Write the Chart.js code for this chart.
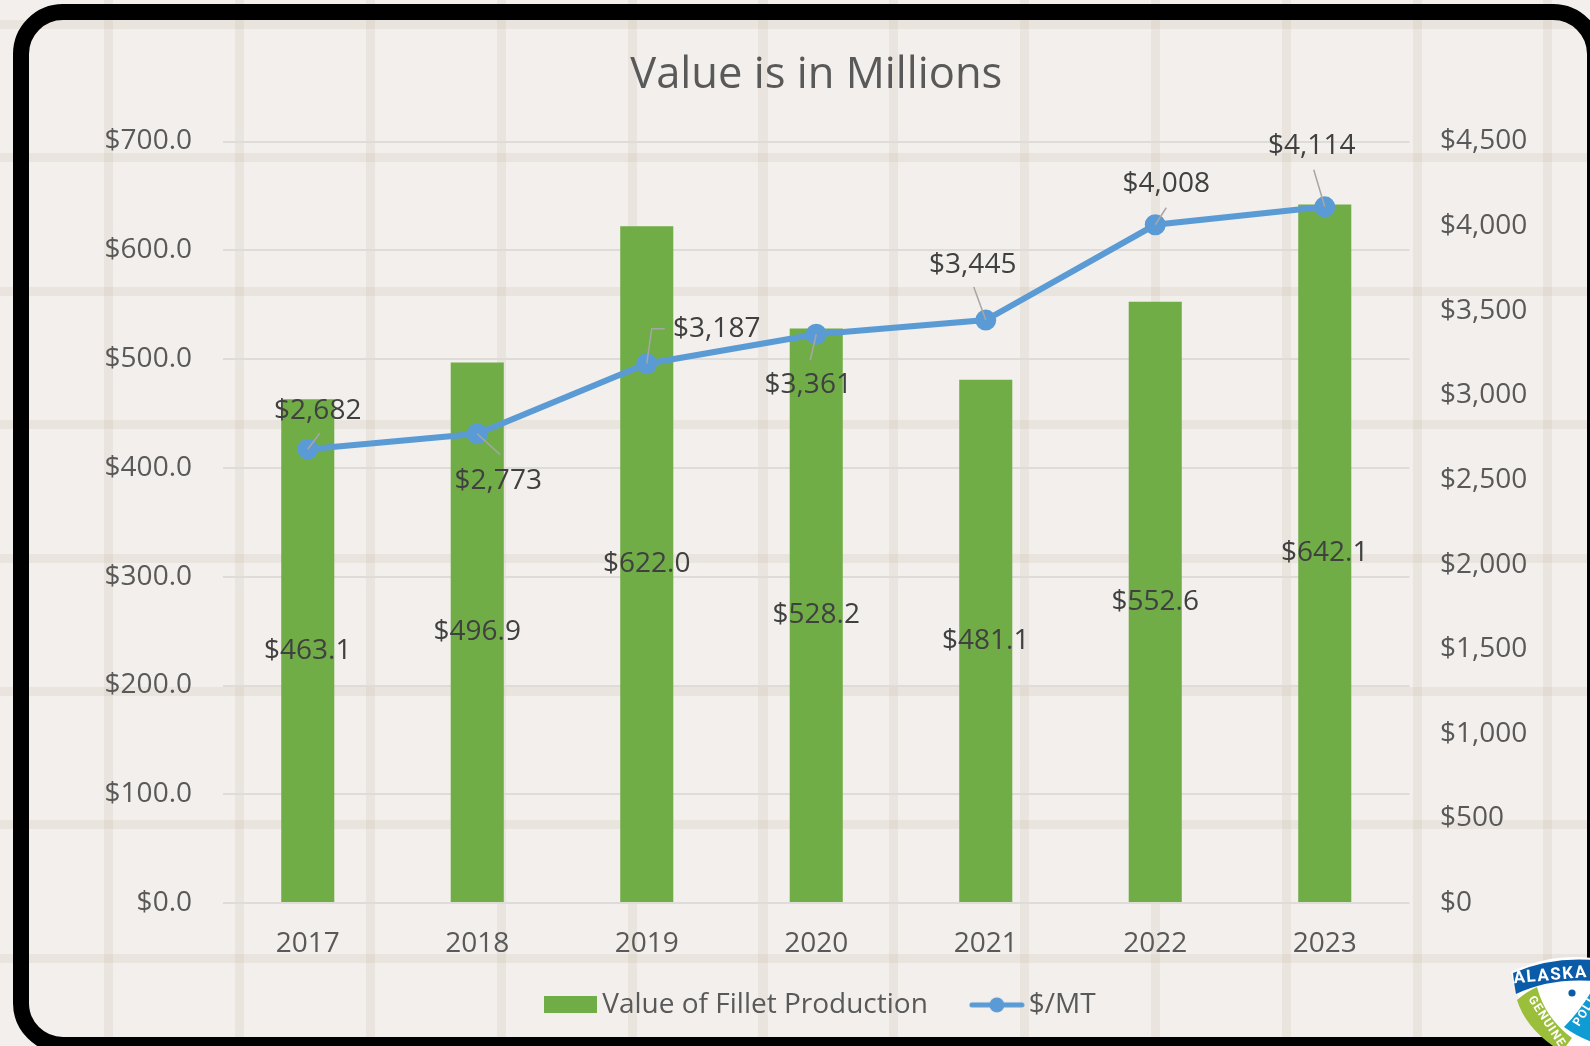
<!DOCTYPE html>
<html>
<head>
<meta charset="utf-8">
<title>Value is in Millions</title>
<script src="https://cdn.jsdelivr.net/npm/chart.js@4"></script>
<style>
  html, body { margin: 0; height: 100%; overflow: hidden; }
  body {
    width: 1590px; height: 1046px; position: relative;
    background-color: #f2efec;
    background-image: repeating-linear-gradient(90deg, transparent 0, transparent 104.5px, rgba(200,185,165,.2) 104.5px, rgba(200,185,165,.2) 113.5px, transparent 113.5px, transparent 130.8px);
  }
  #hlines {
    position: absolute; left: 0; top: 0; width: 1590px; height: 1046px;
    background-image: repeating-linear-gradient(180deg, rgba(200,185,165,.2) 0, rgba(200,185,165,.2) 9px, transparent 9px, transparent 133.4px);
    background-position: 0 20px;
  }
  #frame {
    position: absolute; left: 12.5px; top: 3.5px; width: 1558.5px; height: 1017.5px;
    border: 16px solid #000; border-radius: 50px;
  }
  #wrap { position: absolute; left: 58px; top: 0; }
  #logo { position: absolute; left: 1500px; top: 950px; }
</style>
</head>
<body>
<div id="hlines"></div>
<div id="frame"></div>
<div id="wrap"><canvas id="myChart" width="1532" height="1050"></canvas></div>
<svg id="logo" width="90" height="96" viewBox="1500 950 90 96">
  <path d="M1511 972 Q1550 953 1592 958 L1592 1046 L1560 1046 Q1519 1018 1511 972Z" fill="#fff"/>
  <path d="M1513 973 Q1550 957 1592 960 L1592 981 Q1550 978 1516 994 Q1514 984 1513 973Z" fill="#0a5ca8"/>
  <path d="M1517 1000 Q1526 992 1537 987 Q1545 1018 1572 1038 L1566 1046 L1553 1046 Q1525 1026 1517 1000Z" fill="#9bbf3b"/>
  <path d="M1592 990 L1592 1042 Q1576 1036 1564 1027 Q1581 1010 1592 990Z" fill="#0f9bd3"/>
  <circle cx="1572" cy="993" r="3.6" fill="#0a5ca8"/>
  <text transform="translate(1551 980) rotate(-5)" font-family="Roboto" font-weight="700" font-size="17" letter-spacing="1.6" text-anchor="middle" fill="#fff">ALASKA</text>
  <text transform="translate(1528 999) rotate(57)" font-family="Roboto" font-weight="700" font-size="12" letter-spacing="1.2" fill="#fff">GENUINE</text>
  <text transform="translate(1579 1027) rotate(-58)" font-family="Roboto" font-weight="700" font-size="12" letter-spacing="1.2" fill="#fff">POLLOCK</text>
</svg>
<script>
// Fillet production value (millions) and price per metric ton
var years = ["2017","2018","2019","2020","2021","2022","2023"];
var fillet = [463.1,496.9,622.0,528.2,481.1,552.6,642.1];
var perMT = [2682,2773,3187,3361,3445,4008,4114];

var FONT = "'Open Sans', sans-serif";
var TEXT_SIZE = 28;

// where each $/MT label sits relative to its point, and the leader line to it
var labelOffsets = [[10,-38],[21,47],[70,-35],[-8,51],[-13,-55],[11,-41],[-13,-61]];
var leaders = [
  [[12,-16]],
  [[23,21]],
  [[5,-35],[18,-35]],
  [[-6,26]],
  [[-12,-33]],
  [[11,-17]],
  [[-11,-37]]
];

function legendBar() {
  var c = document.createElement("canvas");
  c.width = 53; c.height = 17;
  var g = c.getContext("2d");
  g.fillStyle = "#70ad47";
  g.fillRect(0,0,53,17);
  return c;
}
function legendLine() {
  var c = document.createElement("canvas");
  c.width = 56; c.height = 18;
  var g = c.getContext("2d");
  g.strokeStyle = "#5b9bd5"; g.lineWidth = 5; g.lineCap = "round";
  g.beginPath(); g.moveTo(3,9); g.lineTo(53,9); g.stroke();
  g.fillStyle = "#5b9bd5";
  g.beginPath(); g.arc(28,9,7.5,0,Math.PI*2); g.fill();
  return c;
}

// x axis clips its labels to its own box, so the legend is lifted after layout
var liftLegend = {
  id: "liftLegend",
  afterLayout: function(chart) { chart.legend.top -= 20.2; }
};

var valueLabels = {
  id: "valueLabels",
  afterDatasetsDraw: function(chart) {
    var ctx = chart.ctx;
    var bars = chart.getDatasetMeta(0).data;
    var pts = chart.getDatasetMeta(1).data;
    ctx.save();
    ctx.font = TEXT_SIZE + "px " + FONT;
    ctx.fillStyle = "#404040";
    ctx.textAlign = "center";
    ctx.textBaseline = "middle";
    ctx.strokeStyle = "#a6a6a6";
    ctx.lineWidth = 1.5;
    for (var i = 0; i < years.length; i++) {
      var c = bars[i].getCenterPoint();
      ctx.fillText("$" + fillet[i].toFixed(1), c.x, c.y);

      var p = pts[i];
      ctx.beginPath();
      ctx.moveTo(p.x, p.y);
      leaders[i].forEach(function(d) { ctx.lineTo(p.x + d[0], p.y + d[1]); });
      ctx.stroke();
      ctx.fillText("$" + perMT[i].toLocaleString("en-US"), p.x + labelOffsets[i][0], p.y + labelOffsets[i][1]);
    }
    ctx.restore();
  }
};

var tickFont = { family: FONT, size: TEXT_SIZE };

new Chart("myChart", {
  type: "bar",
  data: {
    labels: years,
    datasets: [{
      label: "Value of Fillet Production",
      data: fillet,
      backgroundColor: "#70ad47",
      yAxisID: "y",
      order: 2,
      barPercentage: 0.313,
      categoryPercentage: 1
    }, {
      type: "line",
      label: "$/MT",
      data: perMT,
      borderColor: "#5b9bd5",
      backgroundColor: "#5b9bd5",
      borderWidth: 6,
      pointRadius: 7.5,
      pointHoverRadius: 7.5,
      tension: 0,
      yAxisID: "y1",
      order: 1,
      pointStyle: "circle"
    }]
  },
  options: {
    responsive: false,
    animation: false,
    layout: { padding: { top: 0, bottom: 0.9, left: 0, right: 0 } },
    plugins: {
      title: {
        display: true,
        text: "Value is in Millions",
        color: "#595959",
        fullSize: false,
        font: { family: FONT, size: 43.5, weight: "normal" },
        padding: { top: 50, bottom: 39.3 }
      },
      legend: {
        position: "bottom",
        fullSize: true,
        labels: {
          color: "#595959",
          font: tickFont,
          padding: 51,
          usePointStyle: true,
          pointStyleWidth: 36,
          generateLabels: function(chart) {
            return chart.data.datasets.map(function(d, i) {
              return {
                text: d.label,
                pointStyle: i == 0 ? legendBar() : legendLine(),
                fontColor: "#595959",
                lineWidth: 0,
                datasetIndex: i
              };
            });
          }
        }
      },
      tooltip: { enabled: false }
    },
    scales: {
      x: {
        grid: { display: false, drawTicks: false },
        border: { display: false },
        ticks: { color: "#595959", font: tickFont, padding: 23.7, maxRotation: 0 },
        afterFit: function(s) { s.height = 57; }
      },
      y: {
        position: "left",
        min: 0, max: 700,
        grid: { color: "#dedcd9", lineWidth: 2, drawTicks: false },
        border: { display: false },
        ticks: {
          stepSize: 100, color: "#595959", font: tickFont, padding: 31,
          callback: function(v) { return "$" + v.toFixed(1); }
        },
        afterFit: function(s) { s.width = 165; }
      },
      y1: {
        position: "right",
        min: 0, max: 4500,
        grid: { display: false, drawOnChartArea: false, drawTicks: false },
        border: { display: false },
        ticks: {
          stepSize: 500, color: "#595959", font: tickFont, padding: 30.5,
          callback: function(v) { return "$" + v.toLocaleString("en-US"); }
        },
        afterFit: function(s) { s.width = 180.5; }
      }
    }
  },
  plugins: [valueLabels, liftLegend]
});
</script>
</body>
</html>
